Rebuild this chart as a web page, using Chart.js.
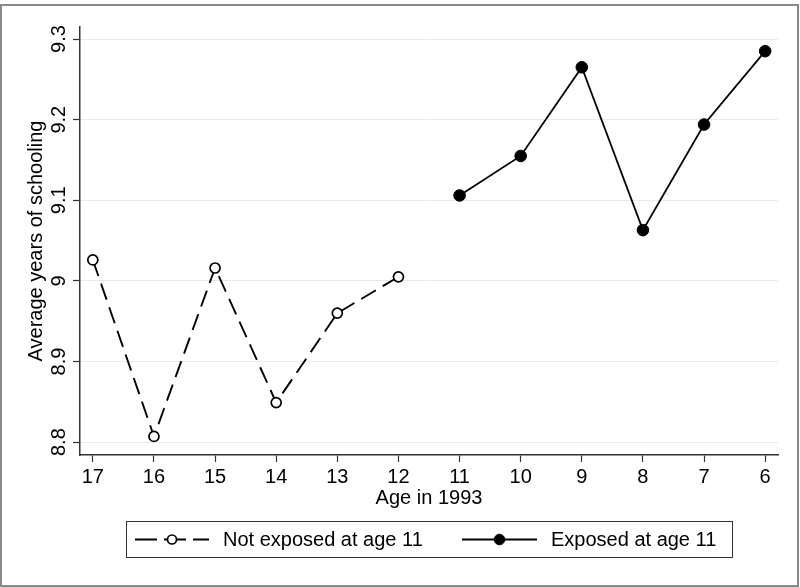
<!DOCTYPE html>
<html>
<head>
<meta charset="utf-8">
<script src="https://cdn.jsdelivr.net/npm/chart.js@4.4.1/dist/chart.umd.min.js"></script>
<style>
  body { margin: 0; background: #fff; }
  #wrap { position: relative; width: 800px; height: 587px; }
  #frame {
    position: absolute; left: 0; top: 4px; width: 799px; height: 583px;
    box-sizing: border-box; border: 2px solid #8a8a8a; pointer-events: none;
  }
</style>
</head>
<body>
<div id="wrap">
  <canvas id="chart" width="800" height="587"></canvas>
  <div id="frame"></div>
</div>
<script>
// ages on the x axis (reversed, 17 on the left)
const ageTicks = [17, 16, 15, 14, 13, 12, 11, 10, 9, 8, 7, 6];
const yTicks = [8.8, 8.9, 9, 9.1, 9.2, 9.3];

const notExposedAges = [17, 16, 15, 14, 13, 12];
const notExposed = [9.026, 8.807, 9.016, 8.849, 8.960, 9.005];

const exposedAges = [11, 10, 9, 8, 7, 6];
const exposed = [9.106, 9.155, 9.265, 9.063, 9.194, 9.285];

const FONT = "'Liberation Sans', Arial, Helvetica, sans-serif";
Chart.defaults.font.family = FONT;
Chart.defaults.font.size = 20;
Chart.defaults.color = "#000";

// Stata style legend in a box under the axis
const boxLegend = {
  id: "boxLegend",
  afterDraw(chart) {
    const ctx = chart.ctx;
    const ds = chart.data.datasets;
    const y = 539.5;
    ctx.save();
    ctx.strokeStyle = "#333";
    ctx.lineWidth = 1;
    ctx.strokeRect(126.5, 521.5, 606, 36);

    const items = [
      { ds: ds[0], x0: 135, x1: 209, dash: [22, 7] },
      { ds: ds[1], x0: 462, x1: 537, dash: [] },
    ];
    items.forEach((it) => {
      ctx.strokeStyle = it.ds.borderColor;
      ctx.lineWidth = it.ds.borderWidth;
      ctx.setLineDash(it.dash);
      ctx.beginPath();
      ctx.moveTo(it.x0, y);
      ctx.lineTo(it.x1, y);
      ctx.stroke();
      ctx.setLineDash([]);
      const cx = (it.x0 + it.x1) / 2;
      ctx.beginPath();
      ctx.arc(cx, y, it.ds.pointRadius - 0.5, 0, Math.PI * 2);
      ctx.fillStyle = it.ds.pointBackgroundColor;
      ctx.fill();
      ctx.lineWidth = it.ds.pointBorderWidth;
      ctx.strokeStyle = it.ds.pointBorderColor;
      ctx.stroke();
      ctx.fillStyle = "#000";
      ctx.font = "20px " + FONT;
      ctx.textBaseline = "middle";
      ctx.textAlign = "left";
      ctx.fillText(it.ds.label, it.x1 + 14, y + 1);
    });
    ctx.restore();
  },
};

new Chart(document.getElementById("chart"), {
  type: "line",
  data: {
    datasets: [
      {
        label: "Not exposed at age 11",
        data: notExposedAges.map((a, i) => ({ x: a, y: notExposed[i] })),
        borderColor: "#000",
        borderWidth: 1.9,
        borderDash: [17, 8],
        pointRadius: 5,
        pointBackgroundColor: "#fff",
        pointBorderColor: "#000",
        pointBorderWidth: 1.7,
        tension: 0,
      },
      {
        label: "Exposed at age 11",
        data: exposedAges.map((a, i) => ({ x: a, y: exposed[i] })),
        borderColor: "#000",
        borderWidth: 1.8,
        pointRadius: 5.8,
        pointBackgroundColor: "#000",
        pointBorderColor: "#000",
        pointBorderWidth: 1,
        tension: 0,
      },
    ],
  },
  options: {
    responsive: false,
    animation: false,
    layout: { padding: { left: 10, right: 22, top: 27, bottom: 76.5 } },
    plugins: { legend: { display: false }, tooltip: { enabled: false } },
    scales: {
      x: {
        type: "linear",
        reverse: true,
        min: 5.79,
        max: 17.21,
        afterBuildTicks: (s) => { s.ticks = ageTicks.map((v) => ({ value: v })); },
        afterFit: (s) => { s.height = 55.5; },
        ticks: { padding: 3, maxRotation: 0, callback: (v) => String(v) },
        grid: { drawOnChartArea: false, drawTicks: true, tickLength: 7, tickColor: "#333", tickWidth: 1.2 },
        border: { display: true, color: "#333", width: 1.5 },
        title: { display: true, text: "Age in 1993", padding: { top: 0, bottom: 0 } },
      },
      y: {
        min: 8.784,
        max: 9.315,
        afterBuildTicks: (s) => { s.ticks = yTicks.map((v) => ({ value: v })); },
        afterFit: (s) => { s.width = 70; },
        ticks: { padding: 0, minRotation: 90, maxRotation: 90, crossAlign: "center", callback: (v) => String(v) },
        grid: { color: "#e4edf0", lineWidth: 1, tickLength: 7, tickColor: "#333", tickWidth: 1.2 },
        border: { display: true, color: "#333", width: 1.5 },
        title: { display: true, text: "Average years of schooling", padding: { top: 14, bottom: 0 } },
      },
    },
  },
  plugins: [boxLegend],
});
</script>
</body>
</html>
